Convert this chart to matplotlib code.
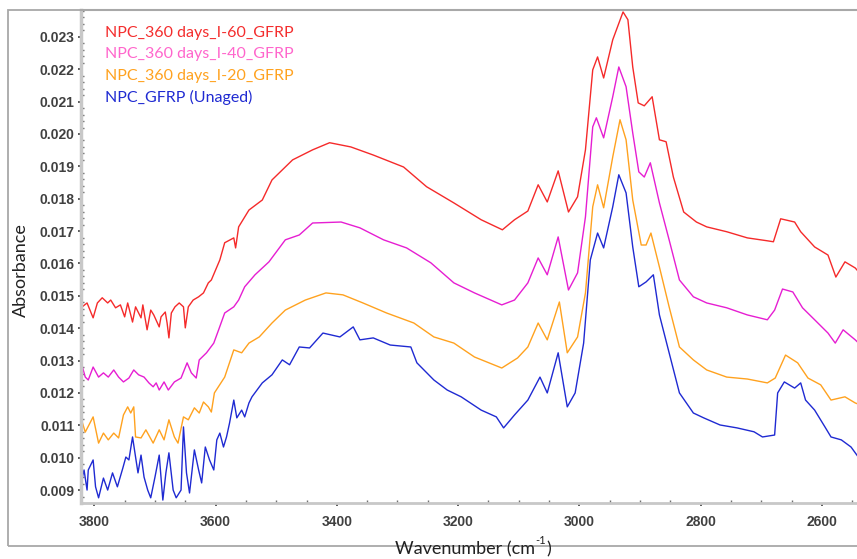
import matplotlib
matplotlib.use("Agg")
import matplotlib.pyplot as plt
from matplotlib.patches import Rectangle
from matplotlib.ticker import MultipleLocator, FormatStrFormatter

# ---------------- data ----------------
wn_i60 = [3822, 3820, 3812, 3802, 3795, 3787, 3778, 3773, 3765, 3757, 3750, 3745, 3737, 3732,
          3723, 3720, 3713, 3707, 3702, 3693, 3690, 3683, 3680, 3677, 3673, 3667, 3660, 3653,
          3650, 3645, 3637, 3628, 3620, 3612, 3607, 3593, 3585, 3570, 3567, 3562, 3545, 3523,
          3507, 3473, 3440, 3412, 3377, 3340, 3290, 3252, 3207, 3162, 3127, 3107, 3085, 3068,
          3053, 3035, 3018, 3003, 2990, 2978, 2970, 2960, 2945, 2928, 2920, 2912, 2903, 2893,
          2880, 2868, 2857, 2845, 2828, 2807, 2790, 2757, 2723, 2690, 2680, 2668, 2645, 2635,
          2612, 2590, 2577, 2562, 2545, 2528]
abs_i60 = [0.01472, 0.01466, 0.01478, 0.01432, 0.01478, 0.01494, 0.01478, 0.01487, 0.01463,
           0.01472, 0.01435, 0.01478, 0.01419, 0.01466, 0.01432, 0.01472, 0.01395, 0.01456,
           0.01441, 0.01404, 0.01435, 0.01450, 0.01416, 0.01370, 0.01447, 0.01466, 0.01478,
           0.01466, 0.01401, 0.01466, 0.01487, 0.01497, 0.01509, 0.01540, 0.01549, 0.01611,
           0.01664, 0.01679, 0.01648, 0.01713, 0.01765, 0.01796, 0.01858, 0.01920, 0.01951,
           0.01973, 0.01960, 0.01935, 0.01898, 0.01837, 0.01787, 0.01735, 0.01704, 0.01735,
           0.01762, 0.01843, 0.01790, 0.01886, 0.01759, 0.01806, 0.01951, 0.02198, 0.02238,
           0.02173, 0.02291, 0.02377, 0.02353, 0.02207, 0.02096, 0.02087, 0.02115, 0.01982,
           0.01976, 0.01867, 0.01759, 0.01728, 0.01713, 0.01698, 0.01679, 0.01670, 0.01667,
           0.01738, 0.01728, 0.01698, 0.01651, 0.01626, 0.01558, 0.01605, 0.01586, 0.01549]

wn_i40 = [3822, 3815, 3810, 3802, 3793, 3785, 3777, 3768, 3760, 3752, 3743, 3735, 3727, 3718,
          3710, 3703, 3698, 3693, 3685, 3678, 3668, 3657, 3647, 3640, 3632, 3627, 3615, 3603,
          3595, 3585, 3570, 3562, 3552, 3535, 3512, 3485, 3462, 3440, 3393, 3362, 3323, 3285,
          3245, 3207, 3173, 3128, 3107, 3085, 3068, 3053, 3035, 3018, 3003, 2990, 2978, 2972,
          2960, 2945, 2935, 2923, 2912, 2902, 2893, 2883, 2868, 2852, 2835, 2812, 2790, 2757,
          2723, 2690, 2678, 2665, 2648, 2632, 2612, 2590, 2578, 2565, 2545, 2528]
abs_i40 = [0.01296, 0.01249, 0.01240, 0.01280, 0.01249, 0.01262, 0.01249, 0.01271, 0.01249,
           0.01234, 0.01246, 0.01271, 0.01256, 0.01249, 0.01231, 0.01219, 0.01231, 0.01209,
           0.01234, 0.01209, 0.01234, 0.01246, 0.01293, 0.01262, 0.01246, 0.01302, 0.01324,
           0.01354, 0.01395, 0.01447, 0.01466, 0.01487, 0.01528, 0.01565, 0.01605, 0.01673,
           0.01688, 0.01725, 0.01728, 0.01710, 0.01673, 0.01648, 0.01602, 0.01540, 0.01509,
           0.01472, 0.01487, 0.01540, 0.01617, 0.01565, 0.01682, 0.01518, 0.01571, 0.01744,
           0.02022, 0.02050, 0.01988, 0.02115, 0.02207, 0.02146, 0.02003, 0.01883, 0.01867,
           0.01911, 0.01787, 0.01673, 0.01549, 0.01497, 0.01478, 0.01463, 0.01441, 0.01426,
           0.01456, 0.01521, 0.01512, 0.01463, 0.01426, 0.01385, 0.01354, 0.01395, 0.01364,
           0.01333]

wn_i20 = [3822, 3820, 3815, 3802, 3793, 3785, 3777, 3768, 3760, 3752, 3745, 3740, 3735, 3732,
          3723, 3715, 3703, 3693, 3685, 3677, 3668, 3662, 3653, 3645, 3635, 3627, 3620, 3612,
          3607, 3602, 3585, 3570, 3557, 3545, 3528, 3507, 3485, 3452, 3418, 3390, 3357, 3318,
          3273, 3240, 3207, 3173, 3128, 3102, 3085, 3068, 3053, 3033, 3020, 3003, 2990, 2978,
          2970, 2960, 2945, 2933, 2923, 2912, 2898, 2890, 2882, 2868, 2852, 2835, 2812, 2790,
          2757, 2723, 2690, 2677, 2660, 2640, 2623, 2602, 2585, 2562, 2545, 2528]
abs_i20 = [0.01107, 0.01110, 0.01079, 0.01126, 0.01045, 0.01076, 0.01055, 0.01076, 0.01061,
           0.01132, 0.01157, 0.01138, 0.01157, 0.01064, 0.01061, 0.01086, 0.01045, 0.01086,
           0.01055, 0.01117, 0.01064, 0.01045, 0.01126, 0.01117, 0.01154, 0.01138, 0.01172,
           0.01157, 0.01141, 0.01200, 0.01249, 0.01333, 0.01324, 0.01354, 0.01373, 0.01416,
           0.01456, 0.01487, 0.01509, 0.01503, 0.01478, 0.01447, 0.01416, 0.01373, 0.01354,
           0.01311, 0.01277, 0.01308, 0.01342, 0.01416, 0.01364, 0.01481, 0.01324, 0.01373,
           0.01509, 0.01775, 0.01843, 0.01772, 0.01929, 0.02044, 0.01982, 0.01796, 0.01657,
           0.01657, 0.01694, 0.01589, 0.01466, 0.01342, 0.01302, 0.01271, 0.01249, 0.01243,
           0.01231, 0.01246, 0.01317, 0.01293, 0.01246, 0.01225, 0.01178, 0.01188, 0.01169,
           0.01157]

wn_unaged = [3822, 3820, 3817, 3812, 3810, 3802, 3798, 3793, 3785, 3778, 3770, 3762, 3753, 3748,
             3743, 3737, 3732, 3728, 3723, 3718, 3712, 3707, 3700, 3693, 3687, 3682, 3677, 3670,
             3665, 3657, 3653, 3648, 3643, 3635, 3628, 3623, 3617, 3610, 3603, 3598, 3593, 3587,
             3582, 3577, 3570, 3565, 3557, 3552, 3545, 3540, 3523, 3507, 3490, 3478, 3462, 3445,
             3423, 3395, 3373, 3362, 3340, 3312, 3278, 3268, 3240, 3218, 3195, 3162, 3137, 3125,
             3107, 3085, 3065, 3053, 3035, 3020, 3007, 2993, 2982, 2970, 2960, 2945, 2935, 2923,
             2912, 2902, 2890, 2878, 2868, 2852, 2835, 2812, 2795, 2768, 2740, 2712, 2698, 2678,
             2673, 2662, 2645, 2635, 2627, 2612, 2595, 2585, 2568, 2552, 2540, 2528]
abs_unaged = [0.00962, 0.00937, 0.00962, 0.00900, 0.00962, 0.00993, 0.00910, 0.00876, 0.00937,
              0.00900, 0.00953, 0.00910, 0.00968, 0.01002, 0.00993, 0.01064, 0.01002, 0.00953,
              0.01008, 0.00940, 0.00900, 0.00876, 0.00940, 0.01008, 0.00869, 0.00953, 0.01015,
              0.00900, 0.00876, 0.00900, 0.01095, 0.00953, 0.00891, 0.01024, 0.00962, 0.00922,
              0.01033, 0.00993, 0.00962, 0.01055, 0.01076, 0.01033, 0.01064, 0.01107, 0.01178,
              0.01123, 0.01147, 0.01126, 0.01169, 0.01188, 0.01231, 0.01256, 0.01302, 0.01287,
              0.01342, 0.01339, 0.01385, 0.01373, 0.01404, 0.01364, 0.01370, 0.01348, 0.01342,
              0.01293, 0.01240, 0.01209, 0.01188, 0.01147, 0.01126, 0.01092, 0.01132, 0.01178,
              0.01249, 0.01200, 0.01324, 0.01157, 0.01200, 0.01354, 0.01611, 0.01694, 0.01648,
              0.01775, 0.01874, 0.01818, 0.01651, 0.01528, 0.01543, 0.01565, 0.01441, 0.01324,
              0.01200, 0.01138, 0.01123, 0.01101, 0.01092, 0.01080, 0.01064, 0.01070, 0.01200,
              0.01234, 0.01215, 0.01231, 0.01178, 0.01147, 0.01095, 0.01064, 0.01055, 0.01033,
              0.01002, 0.00953]

series_labels = ["NPC_360 days_I-60_GFRP", "NPC_360 days_I-40_GFRP",
                 "NPC_360 days_I-20_GFRP", "NPC_GFRP (Unaged)"]
line_colors = ["#f52a2a", "#e61ed2", "#ffa21f", "#1f2ad2"]
label_colors = ["#f42d2d", "#ff66cc", "#ffa21f", "#1f2ad2"]
y_ticks = [0.009, 0.010, 0.011, 0.012, 0.013, 0.014, 0.015, 0.016, 0.017, 0.018, 0.019,
           0.020, 0.021, 0.022, 0.023]
x_ticks = [3800, 3600, 3400, 3200, 3000, 2800, 2600]

# ---------------- figure ----------------
W, H = 857, 559
fig = plt.figure(figsize=(W / 100, H / 100), dpi=100)
ax = fig.add_axes([81 / W, 1 - 503 / H, (W - 81) / W + 0.01, (503 - 10) / H])

series = [(wn_i60, abs_i60), (wn_i40, abs_i40), (wn_i20, abs_i20), (wn_unaged, abs_unaged)]
for (wx, wy), c in zip(series, line_colors):
    ax.plot(wx, wy, color=c, lw=1.0)

ax.set_xlim(3822, 2528)
ax.set_ylim(0.0086, 0.02383)
ax.set_yticks(y_ticks)
ax.set_xticks(x_ticks)
ax.yaxis.set_major_formatter(FormatStrFormatter('%.3f'))
ax.yaxis.set_minor_locator(MultipleLocator(0.0002))
ax.xaxis.set_minor_locator(MultipleLocator(50))

for lab in ax.get_yticklabels() + ax.get_xticklabels():
    lab.set_fontfamily("Liberation Sans")
    lab.set_fontweight("bold")
    lab.set_fontsize(10)
    lab.set_color("#404040")

ax.tick_params(axis='both', which='major', length=2.5, width=1.2, color="#404040",
               direction='out', pad=2)
ax.tick_params(axis='both', which='minor', length=2, width=1.0, color="#707070",
               direction='in')
ax.tick_params(axis='x', which='major', pad=6)

ax.spines['left'].set_color('#c8c8c8')
ax.spines['left'].set_linewidth(2.5)
ax.spines['bottom'].set_color('#c8c8c8')
ax.spines['bottom'].set_linewidth(2.0)
ax.spines['top'].set_color('#a8a8a8')
ax.spines['top'].set_linewidth(1.5)
ax.spines['right'].set_visible(False)

# legend as coloured text
legend_y = [33, 54, 76, 97]
for lbl, c, yy in zip(series_labels, label_colors, legend_y):
    fig.text(105 / W, 1 - yy / H, lbl, color=c, fontsize=11.5, family="Lato",
             va='center', ha='left')

# outer frame
fig.patches.append(Rectangle((8 / W, 1 - 546 / H), 1.2, (546 - 10) / H,
                             transform=fig.transFigure, fill=False,
                             edgecolor='#a8a8a8', lw=1.3, zorder=0))

fig.text(21 / W, 1 - 270 / H, "Absorbance", rotation=90, fontsize=13, family="Lato",
         color="#222222", va='center', ha='center')
fig.text(465 / W, 1 - 549 / H, "Wavenumber (cm", fontsize=13, family="Lato",
         color="#222222", va='center', ha='center')
fig.text(541 / W, 1 - 541 / H, "-1", fontsize=8, family="Lato",
         color="#222222", va='center', ha='center')
fig.text(549 / W, 1 - 549 / H, ")", fontsize=13, family="Lato",
         color="#222222", va='center', ha='center')

fig.savefig("out.png", dpi=100)
